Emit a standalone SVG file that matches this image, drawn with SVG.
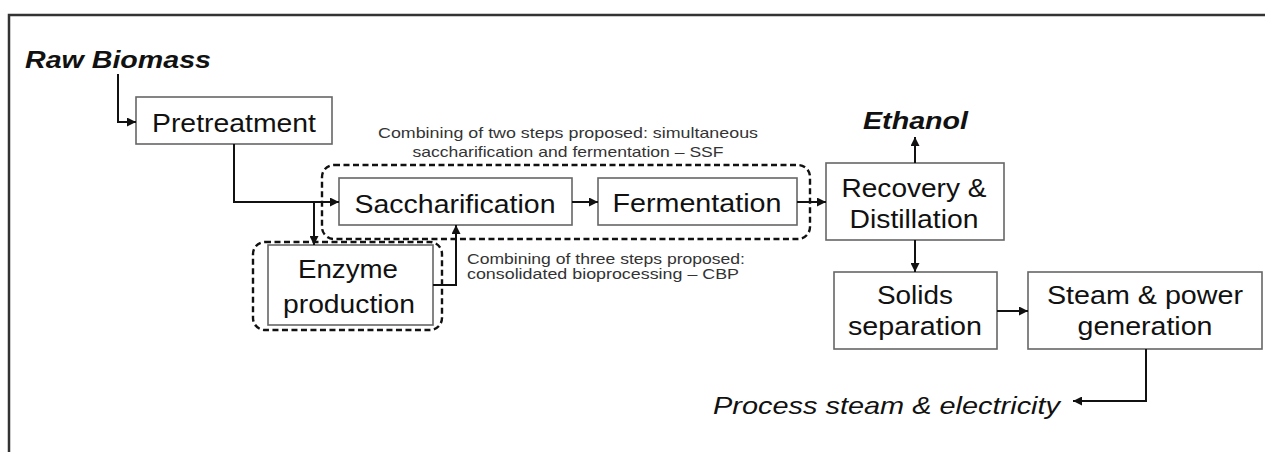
<svg xmlns="http://www.w3.org/2000/svg" width="1265" height="452" viewBox="0 0 1265 452">
<defs>
<marker id="ah" viewBox="0 0 10 10" refX="10" refY="5" markerWidth="10" markerHeight="9" markerUnits="userSpaceOnUse" orient="auto">
<path d="M0,0 L10,5 L0,10 z" fill="#111"/>
</marker>
<style>
.box{fill:#fff;stroke:#666;stroke-width:1.6}
.dash{fill:none;stroke:#111;stroke-width:2.4;stroke-dasharray:6 3.5}
.lbl{font-family:"Liberation Sans",Arial,sans-serif;font-size:26px;fill:#111;text-anchor:middle}
.io{font-family:"Liberation Sans",Arial,sans-serif;font-size:24px;fill:#111;font-style:italic}
.note{font-family:"Liberation Sans",Arial,sans-serif;font-size:15px;fill:#333}
.con{fill:none;stroke:#111;stroke-width:2;marker-end:url(#ah)}
</style>
</defs>
<rect width="1265" height="452" fill="#fff"/>
<path d="M9,452 V15 H1265" fill="none" stroke="#333" stroke-width="2.5"/>

<g id="raw-biomass"><text class="io" x="25" y="68" font-weight="bold" textLength="186" lengthAdjust="spacingAndGlyphs">Raw Biomass</text></g>
<g id="pretreatment"><rect class="box" x="136" y="97" width="196" height="47"/><text class="lbl" x="234" y="132" textLength="164" lengthAdjust="spacingAndGlyphs">Pretreatment</text></g>
<g id="ssf-group"><rect class="dash" x="322" y="165" width="488" height="74" rx="12"/>
<text class="note" x="568" y="138" text-anchor="middle" textLength="380" lengthAdjust="spacingAndGlyphs">Combining of two steps proposed: simultaneous</text>
<text class="note" x="568" y="157" text-anchor="middle" textLength="311" lengthAdjust="spacingAndGlyphs">saccharification and fermentation – SSF</text></g>
<g id="saccharification"><rect class="box" x="339" y="178" width="233" height="47"/><text class="lbl" x="455" y="213" textLength="201" lengthAdjust="spacingAndGlyphs">Saccharification</text></g>
<g id="fermentation"><rect class="box" x="598" y="178" width="199" height="47"/><text class="lbl" x="697" y="212" textLength="169" lengthAdjust="spacingAndGlyphs">Fermentation</text></g>
<g id="cbp-group"><rect class="dash" x="253" y="242" width="189" height="88" rx="12"/>
<text class="note" x="467" y="264" textLength="278" lengthAdjust="spacingAndGlyphs">Combining of three steps proposed:</text>
<text class="note" x="467" y="279" textLength="272" lengthAdjust="spacingAndGlyphs">consolidated bioprocessing – CBP</text></g>
<g id="enzyme-production"><rect class="box" x="268" y="245" width="165" height="80"/><text class="lbl" x="348" y="278" textLength="100" lengthAdjust="spacingAndGlyphs">Enzyme</text><text class="lbl" x="349" y="313" textLength="132" lengthAdjust="spacingAndGlyphs">production</text></g>
<g id="recovery"><rect class="box" x="826" y="163" width="178" height="77"/><text class="lbl" x="914" y="197" textLength="145" lengthAdjust="spacingAndGlyphs">Recovery &amp;</text><text class="lbl" x="914" y="228" textLength="129" lengthAdjust="spacingAndGlyphs">Distillation</text></g>
<g id="ethanol"><text class="io" x="863" y="129" font-weight="bold" textLength="105" lengthAdjust="spacingAndGlyphs">Ethanol</text></g>
<g id="solids"><rect class="box" x="834" y="272" width="163" height="77"/><text class="lbl" x="915" y="304" textLength="76" lengthAdjust="spacingAndGlyphs">Solids</text><text class="lbl" x="915" y="335" textLength="134" lengthAdjust="spacingAndGlyphs">separation</text></g>
<g id="steam-power"><rect class="box" x="1028" y="272" width="234" height="77"/><text class="lbl" x="1145" y="304" textLength="196" lengthAdjust="spacingAndGlyphs">Steam &amp; power</text><text class="lbl" x="1145" y="335" textLength="135" lengthAdjust="spacingAndGlyphs">generation</text></g>
<g id="process-steam"><text class="io" x="713" y="414" font-size="25" textLength="347" lengthAdjust="spacingAndGlyphs">Process steam &amp; electricity</text></g>

<g id="connectors">
<path class="con" d="M118,74 V122 H136"/>
<path class="con" d="M234,144 V202 H339"/>
<path class="con" d="M314,202 V245"/>
<path class="con" d="M433,285 H456 V225"/>
<path class="con" d="M572,202 H598"/>
<path class="con" d="M797,202 H826"/>
<path class="con" d="M915,163 V137"/>
<path class="con" d="M915,240 V272"/>
<path class="con" d="M997,311 H1028"/>
<path class="con" d="M1146,349 V401 H1073"/>
</g>
</svg>
